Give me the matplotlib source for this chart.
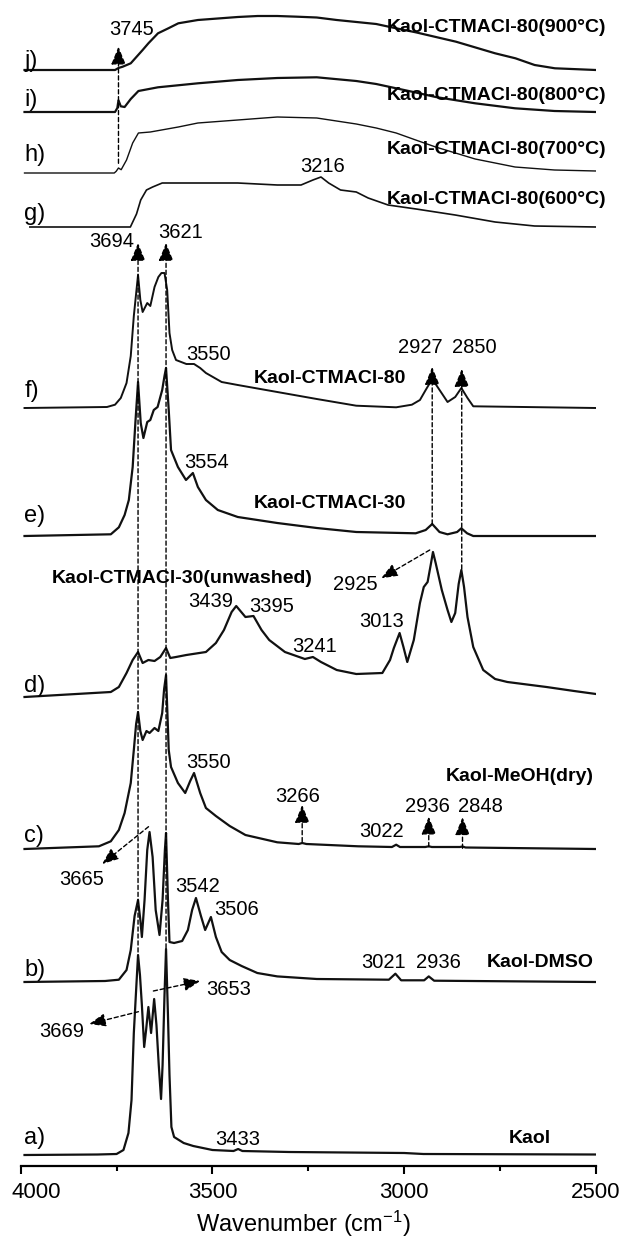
import matplotlib
matplotlib.use("Agg")
import numpy as np
import matplotlib.pyplot as plt
import matplotlib.transforms as mtransforms

plt.rcParams['font.family'] = ['Liberation Sans', 'DejaVu Sans']
plt.rcParams['mathtext.fontset'] = 'custom'
plt.rcParams['mathtext.rm'] = 'Liberation Sans'
plt.rcParams['mathtext.it'] = 'Liberation Sans:italic'

# ---- spectra (wavenumber, intensity above own baseline) ----
a_wn = [3990, 3800, 3750, 3732, 3719, 3711, 3705, 3698, 3694, 3689, 3684, 3678, 3673, 3667, 3660,
        3652, 3646, 3640, 3634, 3630, 3625, 3621, 3616, 3612, 3607, 3600, 3575, 3550, 3500, 3445,
        3433, 3422, 3300, 3000, 2950, 2500]
a_int = [0, 0.5, 1, 5, 22, 55, 122, 172, 200, 180, 150, 108, 125, 148, 122,
         156, 130, 90, 56, 90, 160, 206, 140, 80, 28, 18, 12, 9, 5, 4,
         6, 4, 3, 2, 1, 0.5]

b_wn = [3990, 3780, 3744, 3724, 3713, 3703, 3694, 3688, 3684, 3677, 3670, 3664, 3656, 3648, 3638,
        3630, 3624, 3621, 3616, 3612, 3600, 3579, 3564, 3553, 3543, 3530, 3519, 3504, 3491, 3476,
        3455, 3424, 3383, 3331, 3228, 3040, 3023, 3008, 2948, 2936, 2922, 2500]
b_int = [0, 1, 2.3, 12, 32, 66, 82, 62, 45, 82, 132, 150, 125, 72, 47,
         82, 132, 149, 82, 40, 39, 41, 52, 72, 84, 66, 52, 65, 45, 30,
         22, 16, 9, 5.6, 3, 2.3, 8.3, 1.7, 1.7, 5.6, 1.3, 0]

c_wn = [3990, 3796, 3765, 3744, 3729, 3713, 3705, 3699, 3694, 3688, 3682, 3672, 3664, 3651, 3641,
        3631, 3626, 3621, 3614, 3608, 3590, 3571, 3558, 3548, 3532, 3517, 3491, 3455, 3414, 3331,
        3275, 3266, 3255, 3120, 3032, 3021, 3011, 2945, 2936, 2928, 2855, 2848, 2840, 2500]
c_int = [0, 2.7, 7.7, 19, 36, 66, 99, 125, 137, 118, 109, 118, 116, 121, 118,
         136, 160, 174, 99, 82, 66, 56, 68, 76, 56, 41, 33, 23, 14, 6.7,
         5, 6, 5, 2.7, 2, 4.3, 2, 2, 2.7, 2, 2, 2.5, 1.5, 0]

d_wn = [3990, 3765, 3744, 3724, 3708, 3694, 3682, 3667, 3651, 3636, 3621, 3610, 3595, 3568, 3517,
        3491, 3470, 3450, 3438, 3414, 3393, 3372, 3352, 3311, 3259, 3238, 3217, 3176, 3125, 3057,
        3037, 3027, 3012, 3002, 2992, 2975, 2959, 2949, 2939, 2930, 2925, 2918, 2902, 2887, 2877,
        2867, 2858, 2851, 2844, 2835, 2820, 2794, 2763, 2731, 2629, 2557, 2500]
d_int = [0, 5, 10, 24, 37, 45, 34, 37, 36, 40, 49, 39, 40, 42, 45,
         54, 67, 85, 91, 80, 81, 67, 57, 45, 38, 40, 35, 27, 23, 24,
         37, 49, 64, 50, 35, 57, 94, 110, 115, 134, 145, 134, 107, 87, 75,
         84, 113, 127, 110, 80, 50, 27, 18, 15, 10, 6, 3]

e_wn = [3990, 3765, 3744, 3729, 3718, 3708, 3701, 3694, 3687, 3680, 3670, 3662, 3653, 3643, 3631,
        3625, 3621, 3614, 3608, 3590, 3569, 3551, 3538, 3517, 3486, 3434, 3331, 3228, 3125, 2970,
        2944, 2927, 2908, 2887, 2862, 2851, 2836, 2820, 2500]
e_int = [0, 1.7, 8.7, 21, 36, 69, 113, 154, 113, 98, 114, 116, 126, 129, 146,
         160, 168, 126, 86, 69, 56, 63, 49, 36, 26, 19, 13, 8, 4, 2.7,
         6, 12, 4, 1.7, 4, 7.7, 2.7, 0, 0]

f_wn = [3990, 3775, 3754, 3739, 3724, 3713, 3705, 3694, 3688, 3682, 3670, 3662, 3651, 3641, 3633,
        3625, 3618, 3612, 3605, 3595, 3568, 3548, 3532, 3517, 3476, 3434, 3331, 3228, 3125, 3021,
        2980, 2959, 2944, 2927, 2913, 2887, 2867, 2851, 2835, 2820, 2500]
f_int = [0, 1, 3.3, 10, 25, 52, 92, 133, 108, 96, 105, 102, 121, 131, 135,
         135, 118, 75, 58, 48, 44, 44, 40, 35, 26, 23, 16, 9, 2.3, 0.7,
         3.3, 8, 18, 29, 21, 6, 11, 20, 10, 1.7, 0]

g_wn = [3976, 3714, 3698, 3687, 3672, 3656, 3631, 3538, 3434, 3331, 3269, 3238, 3217, 3197, 3166,
        3125, 3094, 3042, 2969, 2867, 2763, 2660, 2500]
g_int = [0, 0, 13, 27, 37, 40, 44, 44, 44, 42, 42, 47, 50, 44, 37,
         35, 29, 22, 18, 12, 5, 1, 0]

h_wn = [3990, 3756, 3751, 3745, 3738, 3724, 3708, 3693, 3662, 3589, 3538, 3434, 3331, 3228, 3125,
        3073, 3021, 2970, 2918, 2815, 2711, 2608, 2500]
h_int = [0, 0, 1.7, 5, 3.3, 13, 30, 40, 41, 46, 50, 53, 56, 55, 49,
         45, 40, 33, 26, 14, 6, 3, 2]

i_wn = [3990, 3754, 3748, 3745, 3739, 3729, 3713, 3693, 3642, 3538, 3434, 3331, 3228, 3125, 3073,
        3021, 2970, 2918, 2815, 2711, 2608, 2500]
i_int = [0, 0, 4, 11.7, 5.7, 5, 13, 21, 24.7, 28.7, 32, 34, 34.7, 31, 28,
         23.7, 19.5, 15, 8.7, 3.7, 1, 0]

j_wn = [3990, 3754, 3745, 3734, 3713, 3682, 3667, 3642, 3615, 3589, 3538, 3434, 3382, 3331, 3279,
        3228, 3176, 3073, 3021, 2970, 2865, 2763, 2710, 2660, 2607, 2500]
j_int = [0, 0, 2, 3.3, 6.7, 20, 26.7, 36.7, 41.7, 46.7, 50, 53, 54, 54, 53.3,
         52.5, 50, 46, 41.7, 37.7, 28.3, 16.7, 11.7, 5, 1.7, 0]

letters = ['a)', 'b)', 'c)', 'd)', 'e)', 'f)', 'g)', 'h)', 'i)', 'j)']
offsets = [10.7, 183.7, 316.7, 468.7, 629.7, 757.7, 938.7, 992.7, 1053.7, 1095.7]
letter_base = [21.7, 190.2, 323.7, 473.7, 643.7, 768.7, 945.7, 1005.2, 1060.2, 1098.7]
spectra = [(a_wn, a_int), (b_wn, b_int), (c_wn, c_int), (d_wn, d_int), (e_wn, e_int),
           (f_wn, f_int), (g_wn, g_int), (h_wn, h_int), (i_wn, i_int), (j_wn, j_int)]
widths = [1.6, 1.6, 1.6, 1.6, 1.6, 1.4, 1.2, 1.0, 1.6, 1.6]

# sample names: (text, x, y, ha)
names = [
    ('Kaol', 2618.5, 22.7, 'right'),
    ('Kaol-DMSO', 2505, 199, 'right'),
    ('Kaol-MeOH(dry)', 2505, 384.7, 'right'),
    ('Kaol-CTMACl-30(unwashed)', 3579, 582.7, 'center'),
    ('Kaol-CTMACl-30', 3193, 657.7, 'center'),
    ('Kaol-CTMACl-80', 3193, 782.7, 'center'),
    ('Kaol-CTMACl-80(600°C)', 2474, 961.7, 'right'),
    ('Kaol-CTMACl-80(700°C)', 2474, 1011.7, 'right'),
    ('Kaol-CTMACl-80(800°C)', 2474, 1065.7, 'right'),
    ('Kaol-CTMACl-80(900°C)', 2474, 1134, 'right'),
]

# peak numbers: (label, x, y)
peak_labels = [
    ('3745', 3711, 1130.7), ('3216', 3212, 994), ('3694', 3763, 918.7), ('3621', 3583, 927.7),
    ('3550', 3509, 805.7), ('2927', 2959, 812.7), ('2850', 2818, 812.7), ('3554', 3514, 697.7),
    ('2925', 3128, 575.7), ('3439', 3504, 559), ('3395', 3345, 554), ('3241', 3235, 514),
    ('3013', 3060, 539), ('3550', 3509, 397.4), ('3266', 3278, 364), ('3022', 3059, 329),
    ('2936', 2940, 354), ('2848', 2802, 354), ('3665', 3840, 280.7), ('3542', 3538, 274),
    ('3506', 3437, 250.7), ('3021', 3055, 197.4), ('2936', 2910, 197.4), ('3653', 3459, 170.7),
    ('3669', 3894, 129), ('3433', 3434, 20.7),
]

# vertical dashed arrows: (wavenumber, tip y, foot y)
up_arrows = [
    (3745, 1119, 1002.4), (3694, 922.7, 213.7), (3621, 922.7, 217.7),
    (2927, 798.7, 641.7), (2850, 796.7, 596.7), (3266, 360.7, 324),
    (2936, 349, 319), (2848, 348.4, 317.4),
]
# slanted dashed arrows: ((tip x, tip y), (start x, start y))
side_arrows = [
    ((3787.5, 301.7), (3666.7, 339)),
    ((3821, 141.7), (3693, 154)),
    ((3532, 184.7), (3654, 174.7)),
    ((3060, 587.4), (2933.5, 615.7)),
]

fig = plt.figure(figsize=(6.21, 12.38), dpi=100)
ax = fig.add_axes([0.0333, 0.0584, 0.9264, 0.9416])

for (wn, it), off, lw in zip(spectra, offsets, widths):
    ax.plot(wn, np.array(it) + off, color='#111111', lw=lw, solid_joinstyle='round')

for lab, yb in zip(letters, letter_base):
    ax.text(3991, yb, lab, fontsize=17, ha='left', va='baseline')

for txt, x, y, ha in names:
    ax.text(x, y, txt, fontsize=14, fontweight='bold', ha=ha, va='baseline')

for txt, x, y in peak_labels:
    ax.text(x, y, txt, fontsize=14.5, ha='center', va='baseline')

aprops = dict(arrowstyle='-|>,head_length=1.1,head_width=0.45', color='black',
              lw=1.0, linestyle=(0, (3, 2)), shrinkA=0, shrinkB=0, mutation_scale=10)
for w, tip, foot in up_arrows:
    ax.annotate('', xy=(w, tip), xytext=(w, foot), arrowprops=aprops)

sprops = dict(aprops, arrowstyle='-|>,head_length=1.0,head_width=0.4')
for tip, start in side_arrows:
    ax.annotate('', xy=tip, xytext=start, arrowprops=sprops)

ax.set_xlim(4000, 2500)
ax.set_ylim(0, 1165.7)
ax.set_xticks([4000, 3500, 3000, 2500])
ax.set_xticks([3750, 3250, 2750], minor=True)
ax.set_yticks([])
for s in ['top', 'left', 'right']:
    ax.spines[s].set_visible(False)
ax.spines['bottom'].set_linewidth(1.6)
ax.tick_params(axis='x', which='major', direction='out', length=6, width=1.5,
               labelsize=16, pad=6)
ax.tick_params(axis='x', which='minor', direction='out', length=3.5, width=1.5)
ax.set_xlabel('Wavenumber (cm$^{-1}$)', fontsize=17, va='baseline')
ax.xaxis.set_label_coords(0.4914, -0.0566)
ax.patch.set_alpha(0)

# the "4000" label sits just inside the left edge, as in the original
first = ax.xaxis.get_major_ticks()[0].label1
first.set_horizontalalignment('left')
first.set_transform(first.get_transform() +
                    mtransforms.ScaledTranslation(-0.09, 0, fig.dpi_scale_trans))

fig.savefig('out.png', dpi=100)
